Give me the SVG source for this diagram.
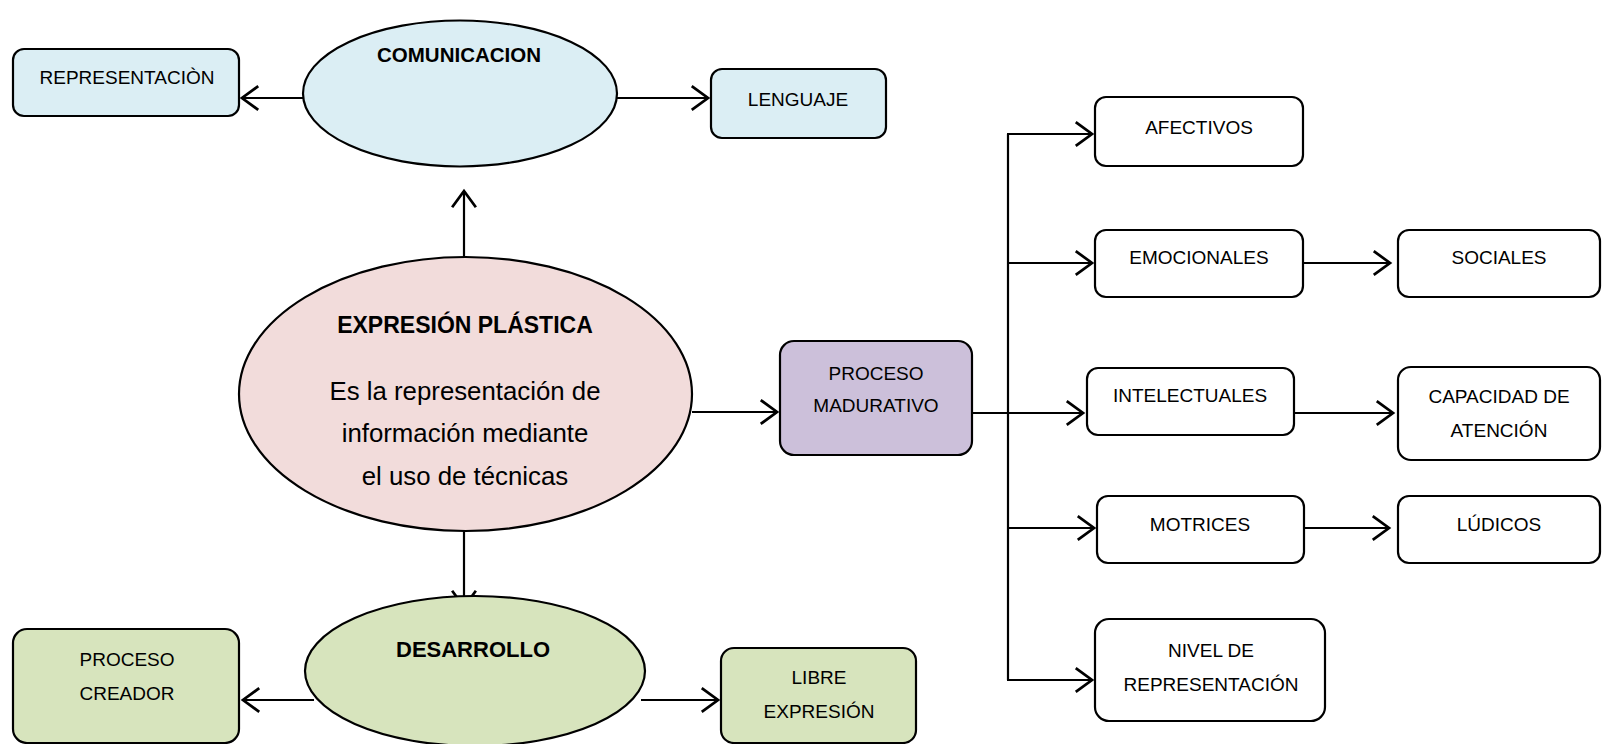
<svg xmlns="http://www.w3.org/2000/svg" width="1602" height="744" viewBox="0 0 1602 744">
<defs>
<style>
.n{stroke:#000;stroke-width:2.2}
.blue{fill:#dbeef4}.pink{fill:#f2dcdb}.purple{fill:#ccc0da}.green{fill:#d7e4bd}.white{fill:#fff}
text{font-family:"Liberation Sans",Arial,sans-serif;fill:#000;text-anchor:middle}
.t{font-size:19px}
.b{font-weight:bold}
.c line,.c path{stroke:#000;stroke-width:2.2;fill:none}
</style>
<marker id="ah" markerUnits="userSpaceOnUse" markerWidth="30" markerHeight="30" viewBox="-16 -12 20 24" refX="0" refY="0" orient="auto">
<path d="M-13,-9.5 L0,0 L-13,9.5" fill="none" stroke="#000" stroke-width="2.2"/>
</marker>
</defs>
<rect width="1602" height="744" fill="#fff"/>
<g id="connectors" class="c">
<line x1="303" y1="98" x2="242" y2="98" marker-end="url(#ah)"/>
<line x1="617" y1="98" x2="708" y2="98" marker-end="url(#ah)"/>
<line x1="464" y1="257" x2="464" y2="191" marker-end="url(#ah)"/>
<line x1="464" y1="531" x2="464" y2="607" marker-end="url(#ah)"/>
<line x1="692" y1="412" x2="777" y2="412" marker-end="url(#ah)"/>
<line x1="972" y1="413" x2="1083" y2="413" marker-end="url(#ah)"/>
<line x1="1008" y1="134" x2="1008" y2="680"/>
<line x1="1007" y1="134" x2="1092" y2="134" marker-end="url(#ah)"/>
<line x1="1007" y1="263" x2="1092" y2="263" marker-end="url(#ah)"/>
<line x1="1007" y1="528" x2="1094" y2="528" marker-end="url(#ah)"/>
<line x1="1007" y1="680" x2="1092" y2="680" marker-end="url(#ah)"/>
<line x1="1303" y1="263" x2="1390" y2="263" marker-end="url(#ah)"/>
<line x1="1294" y1="413" x2="1393" y2="413" marker-end="url(#ah)"/>
<line x1="1304" y1="528" x2="1389" y2="528" marker-end="url(#ah)"/>
<line x1="314" y1="700" x2="243" y2="700" marker-end="url(#ah)"/>
<line x1="641" y1="700" x2="718" y2="700" marker-end="url(#ah)"/>
</g>
<g id="comunicacion"><ellipse class="n blue" cx="460" cy="93.5" rx="157" ry="73"/><text class="b" x="459" y="62" font-size="20.5">COMUNICACION</text></g>
<g id="representacion"><rect class="n blue" x="13" y="49" width="226" height="67" rx="11"/><text class="t" x="127" y="84">REPRESENTACIÒN</text></g>
<g id="lenguaje"><rect class="n blue" x="711" y="69" width="175" height="69" rx="11"/><text class="t" x="798" y="106">LENGUAJE</text></g>
<g id="expresion"><ellipse class="n pink" cx="465.5" cy="394" rx="226.5" ry="137"/>
<text class="b" x="465" y="333" font-size="23">EXPRESIÓN PLÁSTICA</text>
<text x="465" y="400" font-size="25.8">Es la representación de</text>
<text x="465" y="442" font-size="25.8">información mediante</text>
<text x="465" y="485" font-size="25.8">el uso de técnicas</text></g>
<g id="proceso-madurativo"><rect class="n purple" x="780" y="341" width="192" height="114" rx="14"/><text class="t" x="876" y="380">PROCESO</text><text class="t" x="876" y="412">MADURATIVO</text></g>
<g id="afectivos"><rect class="n white" x="1095" y="97" width="208" height="69" rx="11"/><text class="t" x="1199" y="134">AFECTIVOS</text></g>
<g id="emocionales"><rect class="n white" x="1095" y="230" width="208" height="67" rx="11"/><text class="t" x="1199" y="264">EMOCIONALES</text></g>
<g id="sociales"><rect class="n white" x="1398" y="230" width="202" height="67" rx="11"/><text class="t" x="1499" y="264">SOCIALES</text></g>
<g id="intelectuales"><rect class="n white" x="1087" y="368" width="207" height="67" rx="11"/><text class="t" x="1190" y="402">INTELECTUALES</text></g>
<g id="capacidad"><rect class="n white" x="1398" y="367" width="202" height="93" rx="13"/><text class="t" x="1499" y="403">CAPACIDAD DE</text><text class="t" x="1499" y="437">ATENCIÓN</text></g>
<g id="motrices"><rect class="n white" x="1097" y="496" width="207" height="67" rx="11"/><text class="t" x="1200" y="531">MOTRICES</text></g>
<g id="ludicos"><rect class="n white" x="1398" y="496" width="202" height="67" rx="11"/><text class="t" x="1499" y="531">LÚDICOS</text></g>
<g id="nivel"><rect class="n white" x="1095" y="619" width="230" height="102" rx="14"/><text class="t" x="1211" y="657">NIVEL DE</text><text class="t" x="1211" y="691">REPRESENTACIÓN</text></g>
<g id="desarrollo"><ellipse class="n green" cx="475" cy="671" rx="170" ry="75"/><text class="b" x="473" y="657" font-size="22">DESARROLLO</text></g>
<g id="proceso-creador"><rect class="n green" x="13" y="629" width="226" height="114" rx="14"/><text class="t" x="127" y="666">PROCESO</text><text class="t" x="127" y="700">CREADOR</text></g>
<g id="libre-expresion"><rect class="n green" x="721" y="648" width="195" height="95" rx="13"/><text class="t" x="819" y="684">LIBRE</text><text class="t" x="819" y="718">EXPRESIÓN</text></g>
</svg>
